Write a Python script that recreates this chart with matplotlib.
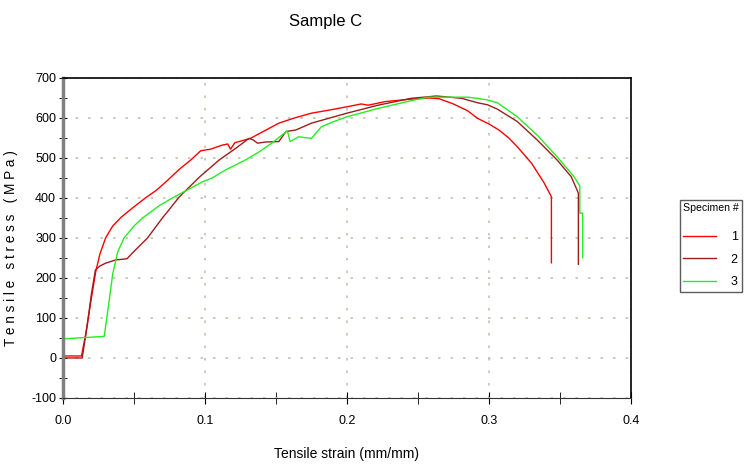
import numpy as np
import matplotlib.pyplot as plt
from matplotlib.ticker import MultipleLocator

plt.rcParams['font.family'] = ['Liberation Sans', 'DejaVu Sans']
plt.rcParams['axes.unicode_minus'] = False

# specimen 1 (red)
strain1 = [0, 0.013, 0.016, 0.020, 0.023, 0.026, 0.030, 0.035, 0.041, 0.05, 0.058, 0.066, 0.073, 0.082,
           0.09, 0.097, 0.104, 0.112, 0.116, 0.118, 0.121, 0.132, 0.142, 0.152, 0.163, 0.175, 0.188, 0.2,
           0.21, 0.215, 0.227, 0.245, 0.258, 0.265, 0.275, 0.285, 0.292, 0.3, 0.307, 0.314, 0.320, 0.330,
           0.339, 0.344, 0.344]
stress1 = [5, 5, 60, 150, 215, 260, 300, 330, 352, 378, 400, 420, 442, 472, 495, 518, 522, 532, 535, 522,
           538, 549, 568, 587, 600, 612, 620, 628, 635, 632, 641, 647, 650, 648, 635, 618, 599, 585, 570,
           550, 528, 487, 437, 403, 238]

# specimen 2 (brown)
strain2 = [0, 0.0135, 0.017, 0.020, 0.0228, 0.026, 0.03, 0.037, 0.045, 0.051, 0.0595, 0.070, 0.082, 0.096,
           0.110, 0.122, 0.131, 0.134, 0.137, 0.143, 0.152, 0.157, 0.164, 0.175, 0.188, 0.2, 0.222, 0.245,
           0.263, 0.281, 0.292, 0.299, 0.306, 0.320, 0.334, 0.348, 0.358, 0.363, 0.363]
stress2 = [0, 0, 80, 160, 220, 230, 237, 245, 248, 270, 300, 350, 403, 452, 495, 525, 549, 545, 537, 540,
           541, 566, 570, 587, 600, 612, 632, 649, 655, 649, 638, 633, 622, 591, 545, 495, 453, 412, 234]

# specimen 3 (green)
strain3 = [0, 0.001, 0.01, 0.02, 0.029, 0.032, 0.035, 0.0385, 0.043, 0.05, 0.056, 0.0675, 0.077, 0.0876,
           0.098, 0.105, 0.1145, 0.1285, 0.138, 0.147, 0.158, 0.160, 0.166, 0.175, 0.182, 0.19, 0.2, 0.222,
           0.245, 0.257, 0.285, 0.292, 0.299, 0.306, 0.320, 0.334, 0.348, 0.360, 0.364, 0.364, 0.366, 0.366]
stress3 = [0, 48, 50, 52, 54, 130, 210, 265, 300, 330, 350, 380, 400, 420, 440, 450, 470, 495, 515, 537,
           568, 541, 553, 549, 578, 590, 603, 624, 643, 652, 652, 649, 645, 638, 603, 557, 503, 453, 430,
           362, 362, 251]

labels = ['1', '2', '3']
colors = ['#ff0000', '#a01c1c', '#22ee22']

fig = plt.figure(figsize=(7.44, 4.68), dpi=100)
ax = fig.add_axes([0.0847, 0.1496, 0.7633, 0.6838])

for xs, ys, lab, c in zip([strain1, strain2, strain3], [stress1, stress2, stress3], labels, colors):
    ax.plot(xs, ys, color=c, lw=1.0, label=lab)

ax.set_xlim(0, 0.4)
ax.set_ylim(-100, 700)
ax.xaxis.set_minor_locator(MultipleLocator(0.05))
ax.yaxis.set_major_locator(MultipleLocator(100))
ax.yaxis.set_minor_locator(MultipleLocator(50))
ax.set_xticks([0, 0.1, 0.2, 0.3, 0.4])
ax.set_xticklabels(['0.0', '0.1', '0.2', '0.3', '0.4'])
ax.tick_params(axis='both', which='both', direction='inout', labelsize=9)
ax.tick_params(axis='x', which='both', length=8, pad=8)
ax.tick_params(axis='y', which='both', length=6, pad=2)
ax.grid(True, which='major', color='#c4c0b4', linestyle=(0, (1.5, 6)), lw=1.2)

ax.spines['left'].set_color('#808080')
ax.spines['left'].set_linewidth(2.5)
ax.spines['bottom'].set_color('#333333')
for s in ['top', 'right']:
    ax.spines[s].set_linewidth(1.2)

ax.set_xlabel('Tensile strain (mm/mm)', fontsize=10, labelpad=15)
ax.set_ylabel('T e n s i l e   s t r e s s   ( M P a )', fontsize=9.8)
ax.yaxis.set_label_coords(-0.079, 0.47)
fig.text(0.437, 0.955, 'Sample C', fontsize=12, ha='center', va='center')

leg = ax.legend(title='Specimen #', loc='upper left', bbox_to_anchor=(680 / 744, 1 - 200 / 468),
                bbox_transform=fig.transFigure, frameon=True, fancybox=False, edgecolor='#333333',
                fontsize=9, title_fontsize=7.6, handlelength=2.6, handletextpad=1.2,
                labelspacing=0.85, borderpad=0.25, borderaxespad=0)
leg.get_frame().set_linewidth(1.0)
leg._legend_box.align = 'left'
leg._legend_box.sep = 13

fig.savefig('out.png', dpi=100)
